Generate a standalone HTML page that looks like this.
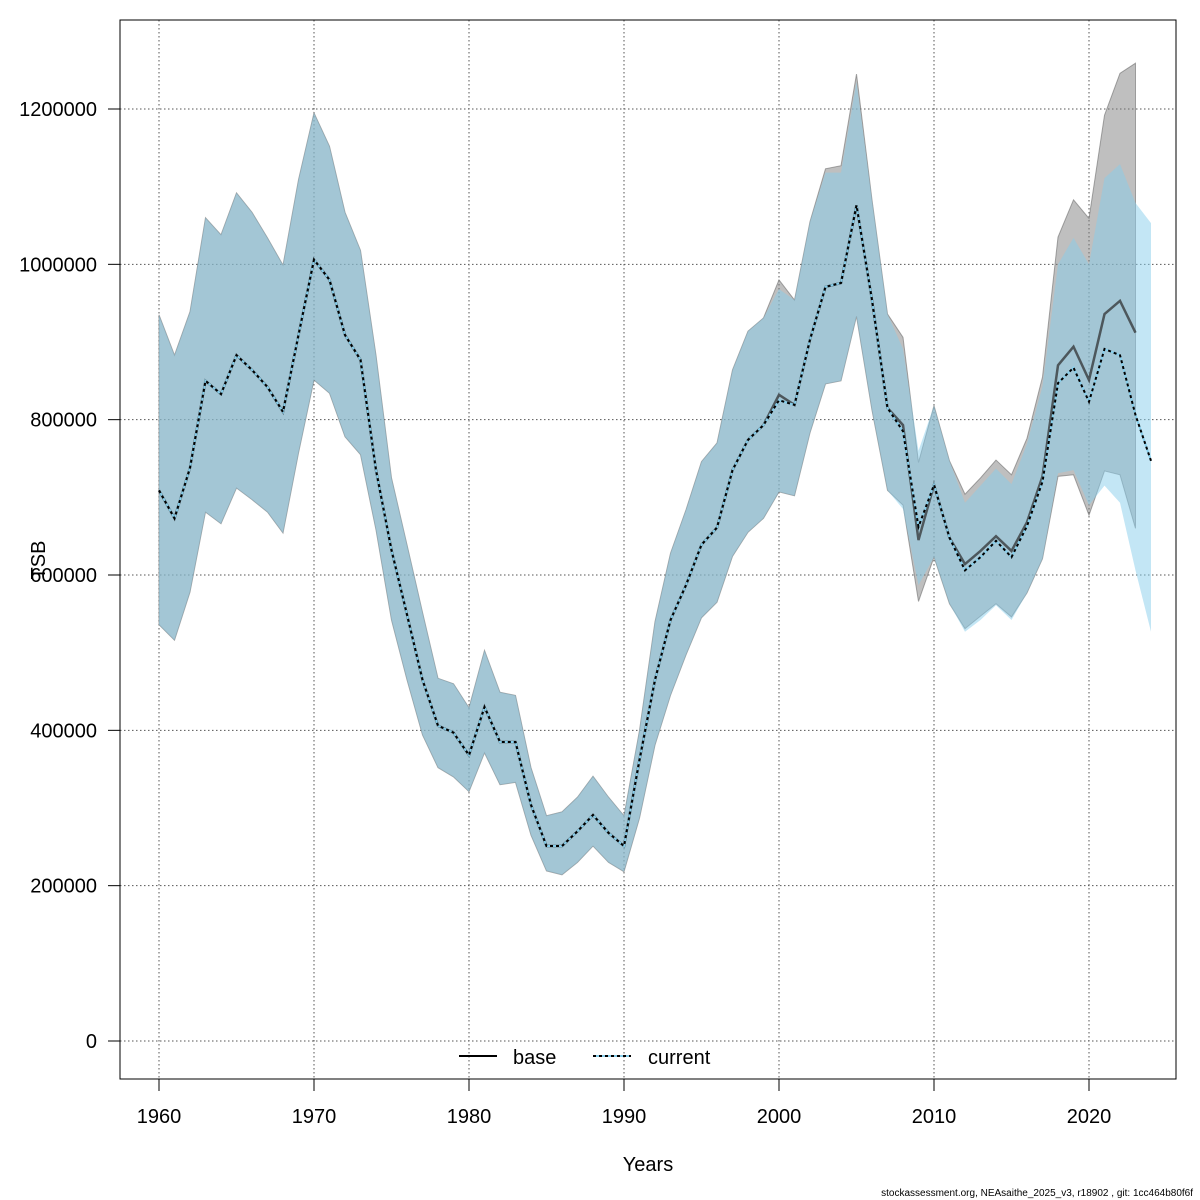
<!DOCTYPE html>
<html><head><meta charset="utf-8"><style>
html,body{margin:0;padding:0;background:#fff;}
svg{display:block;font-family:"Liberation Sans",Arial,sans-serif;}
</style></head><body>
<svg id="chart" width="1200" height="1200" viewBox="0 0 1200 1200"></svg>
<script>
const years = [];
for (let y = 1960; y <= 2024; y++) years.push(y);
const xTicks = [1960,1970,1980,1990,2000,2010,2020];
const yTicks = [0,200000,400000,600000,800000,1000000,1200000];
const yTickLabels = ["0","200000","400000","600000","800000","1000000","1200000"];
// values in thousands
const baseMean = [709,673,738,850,833,883,864,842,810,909,1006,980,909,877,735,632,549,465,406,397,368,430,385,385,304,251,251,270,291,268,251,362,465,542,587,639,661,735,774,793,832,819,903,971,976,1076,954,815,793,645,716,648,614,631,650,631,668,727,870,894,851,936,953,912];
const baseUpper = [935,883,939,1060,1038,1092,1067,1034,999,1109,1195,1152,1067,1018,883,725,639,552,467,460,429,503,449,445,352,290,295,314,341,314,290,400,540,628,684,746,770,864,914,931,980,954,1055,1123,1127,1245,1083,936,906,745,818,747,704,725,748,729,776,855,1035,1083,1059,1192,1246,1259];
const baseLower = [536,516,578,681,666,712,697,681,654,757,851,834,778,755,658,542,465,394,352,340,321,371,330,333,265,219,214,230,251,230,218,287,381,445,497,545,565,624,655,673,707,702,783,846,850,933,812,709,690,566,623,563,531,547,563,546,577,621,727,729,677,734,729,660];
const curMean = [709,673,738,850,833,883,864,842,810,909,1006,980,909,877,735,632,549,465,406,397,368,430,385,385,304,251,251,270,291,268,251,362,465,542,587,639,661,735,774,793,825,819,903,971,976,1076,954,815,785,662,716,648,606,623,644,623,663,720,847,867,823,891,883,806,747];
const curUpper = [935,883,939,1060,1038,1092,1067,1034,999,1109,1195,1152,1067,1018,883,725,639,552,467,460,429,503,449,445,352,290,295,314,341,314,290,400,540,628,684,746,770,864,914,931,968,954,1055,1118,1118,1235,1083,936,891,760,818,747,693,715,737,717,769,843,1000,1034,1000,1111,1129,1079,1053];
const curLower = [536,516,578,681,666,712,697,681,654,757,851,834,778,755,658,542,465,394,352,340,321,371,330,333,265,219,214,230,251,230,218,287,381,445,497,545,565,624,655,673,707,702,783,846,850,933,812,709,685,587,623,563,527,542,561,542,577,621,731,735,690,715,693,606,527];

const NS = "http://www.w3.org/2000/svg";
const svg = document.getElementById("chart");
const X = yr => 159 + (yr - 1960) * 15.5;
const Y = v => 1041 - v * 0.00077667;
function el(tag, attrs, parent) {
  const e = document.createElementNS(NS, tag);
  for (const k in attrs) e.setAttribute(k, attrs[k]);
  (parent || svg).appendChild(e);
  return e;
}
function txt(s, attrs) { const t = el("text", attrs); t.textContent = s; return t; }

const grid = el("g", {});


xTicks.forEach(t => el("line", {x1:X(t),x2:X(t),y1:20,y2:1079,stroke:"#555","stroke-dasharray":"1.5,2.5","stroke-width":1}, grid));
yTicks.forEach(t => el("line", {x1:120,x2:1176,y1:Y(t),y2:Y(t),stroke:"#555","stroke-dasharray":"1.5,2.5","stroke-width":1}, grid));

function band(up, lo, fill, stroke, name) {
  const n = up.length;
  let pts = [];
  for (let i = 0; i < n; i++) pts.push(X(years[i]) + "," + Y(up[i] * 1000));
  for (let i = n - 1; i >= 0; i--) pts.push(X(years[i]) + "," + Y(lo[i] * 1000));
  const p = el("polygon", {points: pts.join(" "), fill: fill, stroke: stroke, "stroke-width": 1});
  
  
}
function line(vals, attrs, name) {
  const pts = vals.map((v, i) => X(years[i]) + "," + Y(v * 1000)).join(" ");
  const a = Object.assign({points: pts, fill: "none"}, attrs);
  const p = el("polyline", a);
  
  
}
band(baseUpper, baseLower, "rgba(128,128,128,0.5)", "rgba(110,110,110,0.6)", "base-ci-band");
band(curUpper, curLower, "rgba(135,206,235,0.5)", "none", "current-ci-band");
line(baseMean, {stroke: "rgba(40,40,40,0.7)", "stroke-width": 2.5}, "base-line");
line(curMean, {stroke: "#87ceeb", "stroke-width": 2}, "current-line-bg");
line(curMean, {stroke: "#000", "stroke-width": 2, "stroke-dasharray": "3,3"}, "current-line");

const box = el("rect", {x:120,y:20,width:1056,height:1059,fill:"none",stroke:"#000","stroke-width":1});



xTicks.forEach(t => {
  el("line", {x1:X(t),x2:X(t),y1:1079,y2:1091,stroke:"#000"});
  const l = txt(String(t), {x:X(t), y:1123, "text-anchor":"middle","font-size":20});
  
  
});
yTicks.forEach((t, i) => {
  el("line", {x1:108,x2:120,y1:Y(t),y2:Y(t),stroke:"#000"});
  const l = txt(yTickLabels[i], {x:97, y:Y(t)+7, "text-anchor":"end","font-size":20});
  
  
});
const xt = txt("Years", {x:648, y:1171, "text-anchor":"middle","font-size":20});


const yt = txt("TSB", {x:0, y:0, "text-anchor":"middle","font-size":20, transform:"translate(45,560) rotate(-90)"});



const lg = el("g", {});


el("line", {x1:459,x2:497,y1:1056,y2:1056,stroke:"#000","stroke-width":2}, lg);
const t1 = el("text", {x:513,y:1064,"font-size":20}, lg); t1.textContent = "base";
el("line", {x1:593,x2:631,y1:1056,y2:1056,stroke:"#87ceeb","stroke-width":2}, lg);
el("line", {x1:593,x2:631,y1:1056,y2:1056,stroke:"#000","stroke-width":2,"stroke-dasharray":"3,3"}, lg);
const t2 = el("text", {x:648,y:1064,"font-size":20}, lg); t2.textContent = "current";

const ft = txt("stockassessment.org, NEAsaithe_2025_v3, r18902 , git: 1cc464b80f6f", {x:1193,y:1196,"text-anchor":"end","font-size":10});


</script>
</body></html>
